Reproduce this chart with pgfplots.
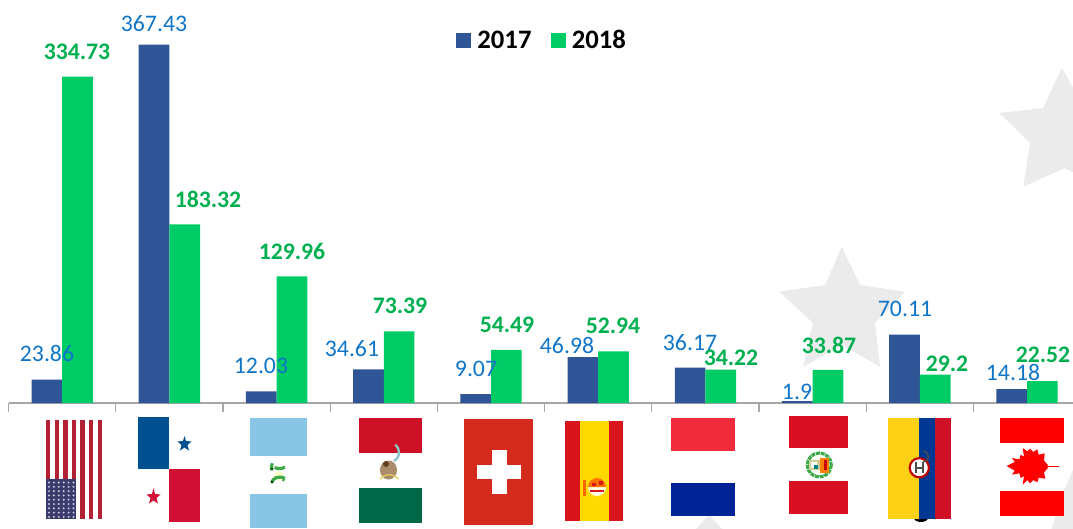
\documentclass[border=0pt]{standalone}
\usepackage{pgfplots}
\pgfplotsset{compat=1.18}
\usepackage{pgfplotstable}
\usepackage{fontspec}
\setmainfont{Carlito}
\definecolor{barblue}{HTML}{2F5597}
\definecolor{bargreen}{HTML}{00CC66}
\definecolor{lblblue}{HTML}{0F75C8}
\definecolor{lblgreen}{HTML}{00B050}
\definecolor{stargray}{HTML}{EBEBEB}
\definecolor{axgray}{HTML}{A6A6A6}
\definecolor{usred}{HTML}{B22234}
\definecolor{usblue}{HTML}{3C3B6E}
\definecolor{panblue}{HTML}{00508F}
\definecolor{panred}{HTML}{D01034}
\definecolor{guablue}{HTML}{89C6E6}
\definecolor{mexred}{HTML}{CC1126}
\definecolor{mexgreen}{HTML}{006847}
\definecolor{swired}{HTML}{D52B1E}
\definecolor{spred}{HTML}{D8141C}
\definecolor{spyel}{HTML}{FFD900}
\definecolor{nlred}{HTML}{EF2B3C}
\definecolor{nlblue}{HTML}{002395}
\definecolor{perred}{HTML}{D91023}
\definecolor{colyel}{HTML}{FCD116}
\definecolor{colblue}{HTML}{003893}
\definecolor{colred}{HTML}{CE1126}
\definecolor{canred}{HTML}{FF0000}
\definecolor{wreath}{HTML}{3FAA4A}
\pgfplotstableread{
x y2017 y2018
0 23.86 334.73
1 367.43 183.32
2 12.03 129.96
3 34.61 73.39
4 9.07 54.49
5 46.98 52.94
6 36.17 34.22
7 1.9 33.87
8 70.11 29.2
9 14.18 22.52
}\datatable
\newcommand{\lblb}[3]{\node[text=lblblue,inner sep=0pt,font=\fontsize{17.8}{20}\selectfont] at (#1,#2) {#3};}
\newcommand{\lblg}[3]{\node[text=lblgreen,inner sep=0pt,font=\bfseries\fontsize{17.8}{20}\selectfont] at (#1,#2) {#3};}
\newcommand{\bx}[5]{\fill[#1] (#2,#3) rectangle (#4,#5);}
\begin{document}
\begin{tikzpicture}
\useasboundingbox (0,0) rectangle (804.75pt,-396pt);
\clip (0,0) rectangle (804.75pt,-396pt);
\begin{scope}[x=0.75pt,y=-0.75pt]
\fill[stargray] (841.7,246.7)--(825,285)--(779.3,291.7)--(813,323)--(803.3,366.7)--(841.7,345)--(880,366.7)--(875,323)--(905,291.7)--(860,285)--cycle;
\fill[stargray] (1061.7,68)--(1043,108)--(999.3,113)--(1030,143)--(1023.3,186.7)--(1065,168)--(1101,187)--(1095,143)--(1125,113)--(1085,108)--cycle;
\fill[stargray] (709,515)--(695,530)--(723,530)--cycle;
\fill[stargray] (1073,470)--(1064,490)--(1051,530)--(1073,530)--cycle;
\end{scope}
\begin{axis}[
  at={(6.45pt,-302.25pt)},anchor=south west,
  scale only axis,width=798.3pt,height=302.25pt,
  xmin=-0.5,xmax=9.429,ymin=0,ymax=413.3,
  axis x line=bottom,axis y line=none,
  axis line style={axgray,line width=0.9pt,-},
  xtick={-0.5,0.5,...,8.5},xticklabels={},
  tick align=outside,major tick length=6.5pt,
  x tick style={axgray,line width=0.9pt},
  ybar=0pt,bar width=23pt,
  legend style={at={(0.4203,0.932)},anchor=north west,draw=none,fill=none,legend columns=2,
    inner sep=0pt,font=\bfseries\fontsize{20}{24}\selectfont,
    /tikz/every odd column/.append style={column sep=2.6pt},
    /tikz/every even column/.append style={column sep=12.4pt}},
  legend image code/.code={\fill[#1] (0pt,-5.6pt) rectangle (11.3pt,5.6pt);},
]
\addplot[draw=none,fill=barblue] table[x=x,y=y2017]{\datatable};
\addlegendentry{2017}
\addplot[draw=none,fill=bargreen] table[x=x,y=y2018]{\datatable};
\addlegendentry{2018}
\end{axis}
\begin{scope}[x=0.75pt,y=-0.75pt]
% USA
\foreach \i in {0,2,...,12}{\pgfmathsetmacro\xa{46+\i*4.31}\pgfmathsetmacro\xb{\xa+4.31}\fill[usred] (\xa,420) rectangle (\xb,519);}
\fill[usblue] (46,479.3) rectangle (76.4,519);
\foreach \i in {0,...,5}{\foreach \j in {0,...,8}{\pgfmathsetmacro\px{49+\i*4.9}\pgfmathsetmacro\py{482.5+\j*4.3}\fill[white!75!usblue] (\px,\py) circle (1.1);}}
% Panama
\bx{panblue}{138}{417}{168.7}{469.3}
\bx{panred}{168.7}{469.3}{200}{522}
\fill[panblue] (184.5,436)--(186,441)--(191.5,441.5)--(187.5,445)--(189,450.5)--(184.5,447.5)--(180,450.5)--(181.5,445)--(177.5,441.5)--(183,441)--cycle;
\fill[panred] (153.5,488)--(155,494)--(160.5,494.5)--(156.5,498)--(158,503.5)--(153.5,500.5)--(149,503.5)--(150.5,498)--(146.5,494.5)--(152,494)--cycle;
% Guatemala
\bx{guablue}{250}{418}{306.8}{456}
\bx{guablue}{250}{494.3}{306.8}{528}
\fill[yellow!20!white] (279,476) circle (5);
\draw[wreath,line width=2.4pt] (285,467) arc[start angle=50,end angle=125,x radius=8.5,y radius=7];
\draw[wreath,line width=2.4pt] (271.5,470) arc[start angle=170,end angle=215,x radius=5,y radius=9];
\draw[wreath,line width=2.4pt] (272,482) arc[start angle=190,end angle=310,x radius=8,y radius=6];
\draw[wreath,line width=1.6pt] (284,478) arc[start angle=-10,end angle=40,radius=4];
\fill[black!70!green] (272,469) circle (1.6);
\fill[black!70!green] (272,482) circle (1.6);
% Mexico
\bx{mexred}{358.8}{418}{421.8}{452.7}
\bx{mexgreen}{358.8}{488}{421.8}{523}
\fill[brown!70!black!70!white] (388.5,470) ellipse (8.5 and 9.5);
\fill[brown!50!black] (386,464) circle (3);
\draw[teal!45!white,line width=1.8pt] (394,461) arc[start angle=60,end angle=-50,radius=10];
\draw[yellow!50!brown!80!white,line width=1pt] (380,479) arc[start angle=220,end angle=320,radius=12];
% Switzerland
\bx{swired}{464}{419}{533}{525}
\bx{white}{477.3}{465}{520.7}{479}
\bx{white}{492}{450}{506.5}{494}
% Spain
\bx{spred}{565}{421}{623}{521}
\bx{spyel}{579.5}{421}{608.8}{521}
\fill[white!90!yellow] (588,487) arc[start angle=180,end angle=0,radius=9];
\fill[orange!90!red] (588,487) arc[start angle=180,end angle=360,radius=9];
\fill[spred] (592,483) rectangle (596,486);\fill[spred] (599,481) rectangle (603,485);
\fill[spred] (590,490) rectangle (604,492);
\fill[orange!80!red] (582.5,480) rectangle (585.5,496);
% Netherlands
\bx{nlred}{671}{418}{735}{450.7}
\bx{nlblue}{671}{482.7}{735}{516}
% Peru
\bx{perred}{789}{416}{848}{448.3}
\bx{perred}{789}{481}{848}{514}
\draw[wreath,line width=2.4pt,dash pattern=on 3pt off 0.6pt] (819.3,465) circle (12);
\fill[yellow!40!gray!70!white] (808.5,460) rectangle (820,470);
\fill[white] (811,462) rectangle (817,468);
\fill[orange] (820,457.5) rectangle (829,473);
\fill[red!80!black] (823.5,460) rectangle (827,470);
\fill[teal] (814,465) rectangle (818,469);
% Colombia
\fill[black] (921,518) ellipse (7 and 4);
\bx{colyel}{888}{418}{919.4}{519}
\bx{colblue}{919.4}{418}{935.2}{519}
\bx{colred}{935.2}{418}{951}{519}
\draw[red!75!black,line width=1.6pt,fill=white] (919.3,467.7) circle (9.6);
\draw[black!70,line width=1.2pt] (916,462)--(916,473) (923,462)--(923,473) (916,467.7)--(923,467.7);
\draw[black!70,line width=1pt] (923,462) arc[start angle=90,end angle=-90,radius=5.5];
% Canada
\bx{canred}{1000}{418}{1064}{442.7}
\bx{canred}{1000}{491}{1064}{516}
\begin{scope}[shift={(1000,440)},x=0.25pt,y=-0.25pt]
\fill[canred] (20,78)--(44,66)--(36,54)--(58,58)--(62,44)--(72,50)--(68,24)--(82,34)--(90,26)--(100,36)--(112,28)--(116,44)--(134,40)--(132,62)--(143,74)--(143,85)--(132,97)--(136,116)--(116,113)--(112,127)--(100,120)--(90,130)--(82,120)--(68,134)--(72,108)--(62,114)--(58,100)--(36,104)--(44,92)--cycle;
\fill[canred] (140,77) rectangle (178,81);
\end{scope}
% value labels
\lblb{47}{353}{23.86}
\lblg{77}{52}{334.73}
\lblb{154}{24}{367.43}
\lblg{208}{199}{183.32}
\lblg{292}{251}{129.96}
\lblb{261}{366}{12.03}
\lblb{352}{349}{34.61}
\lblg{400}{306}{73.39}
\lblb{476}{369}{9.07}
\lblg{507}{325}{54.49}
\lblb{567}{345}{46.98}
\lblg{613}{326}{52.94}
\lblb{690}{343}{36.17}
\lblg{731}{358}{34.22}
\lblb{797}{392}{1.9}
\lblg{829}{345}{33.87}
\lblb{905}{309}{70.11}
\lblg{947}{364}{29.2}
\lblb{1013}{372}{14.18}
\lblg{1043}{355}{22.52}
\end{scope}
\end{tikzpicture}
\end{document}
